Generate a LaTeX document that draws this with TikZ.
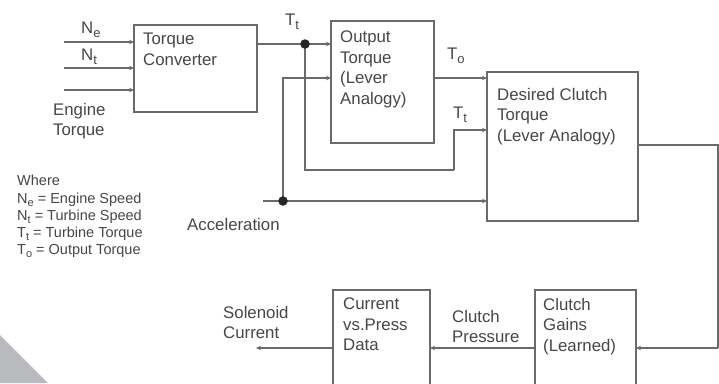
\documentclass[tikz,border=0pt]{standalone}
\usepackage{fontspec}
\setmainfont{Liberation Sans}
\usetikzlibrary{arrows.meta}
\definecolor{ln}{HTML}{6A6A6A}
\definecolor{tx}{HTML}{474747}
\definecolor{tri}{HTML}{B9BABE}
\newcommand\lo[1]{\raisebox{-0.4ex}{\fontsize{13}{13}\selectfont #1}}
\newcommand\slo[1]{\raisebox{-0.4ex}{\fontsize{11}{11}\selectfont #1}}
\begin{document}
\begin{tikzpicture}[x=1pt,y=-1pt,
  box/.style={draw=ln,line width=1.1pt,inner sep=0,outer sep=0},
  txt/.style={text=tx,font=\fontsize{16.8}{20.5}\selectfont,align=left,inner sep=0,anchor=north west},
  leg/.style={text=tx,font=\fontsize{14.5}{17.3}\selectfont,align=left,inner sep=0,anchor=north west},
  wire/.style={draw=ln,line width=1.1pt},
  arr/.style={wire,-{Stealth[length=5pt,width=4.5pt]}},
  dot/.style={circle,fill=black!85,inner sep=0,minimum size=9.5pt}]
\clip (0,0) rectangle (719,383);
\fill[white] (0,0) rectangle (719,383);
\fill[tri] (0,335) -- (48,383) -- (0,383) -- cycle;

% boxes
\node[box,minimum width=123pt,minimum height=87pt] (tc) at (195.5,68.5) {};
\node[box,minimum width=103pt,minimum height=122pt] (ot) at (382.5,82) {};
\node[box,minimum width=151pt,minimum height=149pt] (dcl) at (562.5,146.5) {};
\node[box,minimum width=101pt,minimum height=110pt] (cg) at (585.5,345) {};
\node[box,minimum width=97pt,minimum height=110pt] (cp) at (381.5,345) {};

% box texts
\node[txt] (tct) at (143,33) {Torque\\Converter};
\node[txt] (ott) at (340,31) {Output\\Torque\\(Lever\\Analogy)};
\node[txt] (dclt) at (497,88) {Desired Clutch\\Torque\\(Lever Analogy)};
\node[txt] (cgt) at (543,298) {Clutch\\Gains\\(Learned)};
\node[txt] (cpt) at (343,298) {Current\\vs.Press\\Data};

% labels
\node[txt] (lne) at (81,22) {N\lo{e}};
\node[txt] (lnt) at (81,49) {N\lo{t}};
\node[txt] (let) at (53,103) {Engine\\Torque};
\node[txt] (ltt) at (285,14) {T\lo{t}};
\node[txt] (lto) at (447,48) {T\lo{o}};
\node[txt] (ltt2) at (453,107) {T\lo{t}};
\node[txt] (lacc) at (187,218) {Acceleration};
\node[txt] (lcp) at (452,310) {Clutch\\Pressure};
\node[txt] (lsc) at (223,306) {Solenoid\\Current};
\node[leg] (legend) at (17,175) {Where\\N\slo{e} = Engine Speed\\N\slo{t} = Turbine Speed\\T\slo{t} = Turbine Torque\\T\slo{o} = Output Torque};

% coordinates
\coordinate (ine) at (64,42);
\coordinate (int) at (64,68);
\coordinate (iet) at (64,90);
\coordinate (j1) at (305,44);
\coordinate (j2) at (283,201);
\coordinate (acc) at (263,201);
\coordinate (lvl) at (0,78);
\coordinate (b1) at (454,170);
\coordinate (b2) at (0,130);
\coordinate (outl) at (0,145);
\coordinate (rt) at (718,348);
\coordinate (sol) at (256,348);

% connectors
\draw[arr] (ine) -- (ine -| tc.west);
\draw[arr] (int) -- (int -| tc.west);
\draw[arr] (iet) -- (iet -| tc.west);
\draw[wire] (j1 -| tc.east) -- (j1);
\draw[arr] (j1) -- (j1 -| ot.west);
\draw[wire] (j1) |- (b1);
\draw[arr] (b1) |- (b2 -| dcl.west);
\draw[arr] (j2) |- (lvl -| ot.west);
\draw[arr] (lvl -| ot.east) -- (lvl -| dcl.west);
\draw[arr] (acc) -- (acc -| dcl.west);
\draw[wire] (outl -| dcl.east) -| (rt);
\draw[arr] (rt) -- (rt -| cg.east);
\draw[arr] (rt -| cg.west) -- (rt -| cp.east);
\draw[arr] (rt -| cp.west) -- (sol);
\node[dot] (d1) at (j1) {};
\node[dot] (d2) at (j2) {};
\end{tikzpicture}
\end{document}
